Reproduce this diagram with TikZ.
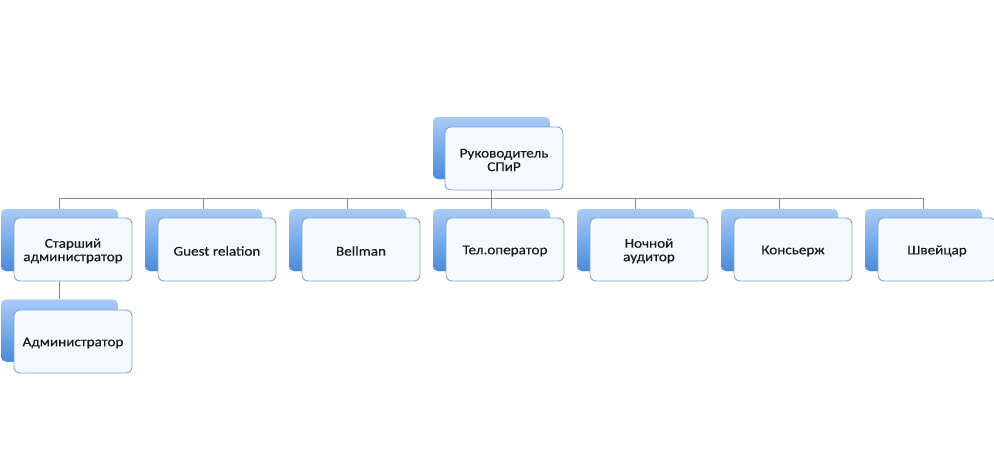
\documentclass[tikz,border=0pt]{standalone}
\usepackage{fontspec}
\setmainfont{Carlito}[FakeStretch=1.12,FakeBold=0.4]
\usetikzlibrary{calc}
\definecolor{backtop}{HTML}{A9CBF7}
\definecolor{backbot}{HTML}{4A8AD8}
\definecolor{frontfill}{HTML}{F5F9FE}
\definecolor{frontline}{HTML}{7FA5D5}
\definecolor{conn}{HTML}{7390B5}
\tikzset{
  backbox/.style={rectangle, rounded corners=5pt, inner sep=0pt, minimum width=117pt, minimum height=62pt, top color=backtop, bottom color=backbot, draw=none},
  frontbox/.style={rectangle, rounded corners=6pt, inner sep=0pt, minimum width=118pt, minimum height=63pt, fill=frontfill, draw=frontline, line width=0.9pt},
  lbl/.style={align=center, inner sep=0pt, yshift=-1.5pt, font=\fontsize{13.5}{13.5}\selectfont, text=black!90},
  connline/.style={draw=conn, line width=0.9pt}
}
\begin{document}
\begin{tikzpicture}[x=1pt,y=-1pt]
\useasboundingbox (0,0) rectangle (994,464);
% back boxes
\node[backbox] (tb) at (491.5,148) {};
\foreach \i in {0,...,6} {
  \node[backbox] (b\i) at ({144*\i+59.5},240) {};
}
\node[backbox] (ab) at (59.5,330.5) {};
% connectors
\coordinate (hub) at (491.5,198);
\draw[connline] (tb.center) -- (tb.center |- hub);
\draw[connline] (b0.north |- hub) -- (b6.north |- hub);
\foreach \i in {0,...,6} {
  \draw[connline] (b\i.north |- hub) -- (b\i.north);
}
\draw[connline] (b0.center) -- (ab.north);
% redraw back boxes over connectors
\node[backbox] at (tb) {};
\foreach \i in {0,...,6} { \node[backbox] at (b\i) {}; }
\node[backbox] at (ab) {};
% front boxes
\node[frontbox, label={[lbl]center:{Руководитель\\СПиР}}] (t) at (504,158.5) {};
\node[frontbox, label={[lbl]center:{Старший\\администратор}}] (f0) at ({144*0+73},249.5) {};
\node[frontbox, label={[lbl]center:{Guest relation}}] (f1) at ({144*1+73},249.5) {};
\node[frontbox, label={[lbl]center:{Bellman}}] (f2) at ({144*2+73},249.5) {};
\node[frontbox, label={[lbl]center:{Тел.оператор}}] (f3) at ({144*3+73},249.5) {};
\node[frontbox, label={[lbl]center:{Ночной\\аудитор}}] (f4) at ({144*4+73},249.5) {};
\node[frontbox, label={[lbl]center:{Консьерж}}] (f5) at ({144*5+73},249.5) {};
\node[frontbox, label={[lbl]center:{Швейцар}}] (f6) at ({144*6+73},249.5) {};
\node[frontbox, label={[lbl]center:{Администратор}}] (a) at (73,341.5) {};
\end{tikzpicture}
\end{document}
